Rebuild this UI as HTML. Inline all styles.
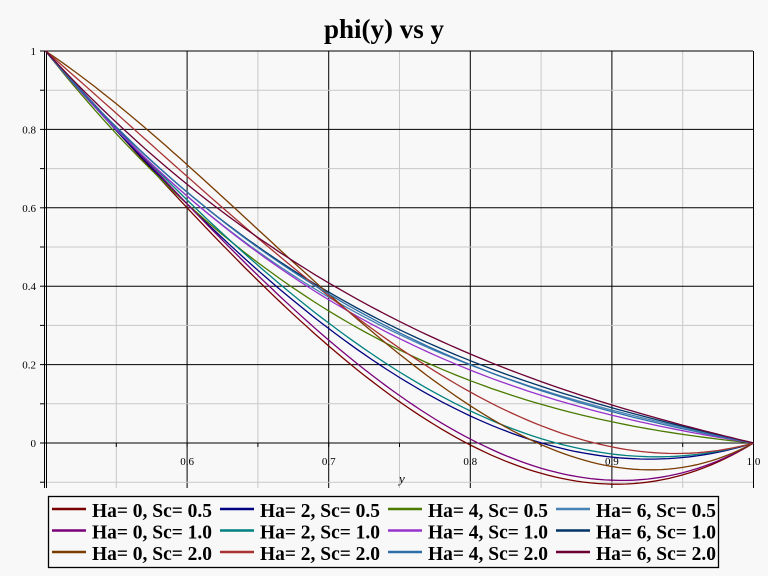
<!DOCTYPE html>
<html><head><meta charset="utf-8"><style>
body{margin:0;background:#f8f8f8;}
svg{display:block;font-family:"Liberation Serif",serif;}
</style></head><body>
<svg id="s" width="768" height="576" xmlns="http://www.w3.org/2000/svg">
<rect width="768" height="576" fill="#f8f8f8"/>
<text x="384" y="38" text-anchor="middle" font-size="27" font-weight="bold">phi(y) vs y</text>
<g id="grid"></g>
<g id="curves" fill="none" stroke-width="1.3"></g>
<text x="399" y="483" font-size="13" font-style="italic">y</text>
<rect x="48.5" y="496.5" width="670" height="71" fill="#f8f8f8" stroke="#000" stroke-width="1.3"/>
<g id="leg" font-size="20" font-weight="bold"></g>
</svg>
<script>
var X=function(v){return 45.5+(v-0.5)*1416;};
var Y=function(p){return 443-p*392;};
var g=document.getElementById('grid'),h='';
for(var i=0;i<=10;i++){var v=0.5+i*0.05,x=X(v);if(i==0)continue;
 h+='<line x1="'+x+'" y1="51" x2="'+x+'" y2="488" stroke="'+(i%2==0?'#000':'#c8c8c8')+'" stroke-width="1"/>';
 h+='<line x1="'+x+'" y1="443" x2="'+x+'" y2="447" stroke="#000"/>';}
for(var j=-1;j<=10;j++){var p=j*0.1,y=Y(p);
 h+='<line x1="45" y1="'+y+'" x2="753" y2="'+y+'" stroke="'+(j%2==0?'#000':'#c8c8c8')+'" stroke-width="1"/>';
 h+='<line x1="40" y1="'+y+'" x2="45" y2="'+y+'" stroke="#000"/>';
 if(j>=0&&j%2==0)h+='<text x="36" y="'+(y+4)+'" font-size="11" text-anchor="end">'+(j==0?'0':j==10?'1':(p.toFixed(1)))+'</text>';}
h+='<line x1="44.5" y1="51" x2="44.5" y2="488" stroke="#000" stroke-width="1"/>';
h+='<line x1="46.5" y1="51" x2="46.5" y2="488" stroke="#000" stroke-width="1"/>';
[0.6,0.7,0.8,0.9,1.0].forEach(function(v){h+='<text x="'+X(v)+'" y="465" font-size="11" text-anchor="middle">'+v.toFixed(1)+'</text>';});
g.innerHTML=h;
var C=[
['Ha= 0, Sc= 0.5','#7a0000',0.60,-0.105],
['Ha= 2, Sc= 0.5','#000080',0.61,-0.036],
['Ha= 4, Sc= 0.5','#4b7a00',0.61,0.054],
['Ha= 6, Sc= 0.5','#4682b4',0.63,0.084],
['Ha= 0, Sc= 1.0','#7a007a',0.61,-0.095],
['Ha= 2, Sc= 1.0','#008080',0.62,-0.028],
['Ha= 4, Sc= 1.0','#9932cc',0.63,0.071],
['Ha= 6, Sc= 1.0','#003366',0.64,0.09],
['Ha= 0, Sc= 2.0','#7a3c00',0.71,-0.06],
['Ha= 2, Sc= 2.0','#a83232',0.68,-0.01],
['Ha= 4, Sc= 2.0','#2e6fa8',0.64,0.08],
['Ha= 6, Sc= 2.0','#6b0033',0.66,0.097]];
var cs='',ls='';
C.forEach(function(c,i){
 var a=c[2]/0.8,b=c[3]/0.2;
 var m=((1-b)-4*(1-a))/(-0.64+0.16), k=((1-a)+0.04*m)/0.2;
 var d='';for(var n=0;n<=100;n++){var t=n/100,p=(1-t)*(1-k*t+m*t*t);d+=(n?'L':'M')+X(0.5+t*0.5).toFixed(1)+' '+Y(p).toFixed(1);}
 cs+='<path d="'+d+'" stroke="'+c[1]+'"/>';
 var col=i%4,row=Math.floor(i/4),lx=52+col*168,ly=517+row*21.5;
 ls+='<line x1="'+lx+'" y1="'+(ly-8)+'" x2="'+(lx+34)+'" y2="'+(ly-8)+'" stroke="'+c[1]+'" stroke-width="2.5"/>';
 ls+='<text x="'+(lx+40)+'" y="'+ly+'" textLength="120" lengthAdjust="spacingAndGlyphs">'+c[0]+'</text>';
});
document.getElementById('curves').innerHTML=cs;
document.getElementById('leg').innerHTML=ls;
</script>
</body></html>
